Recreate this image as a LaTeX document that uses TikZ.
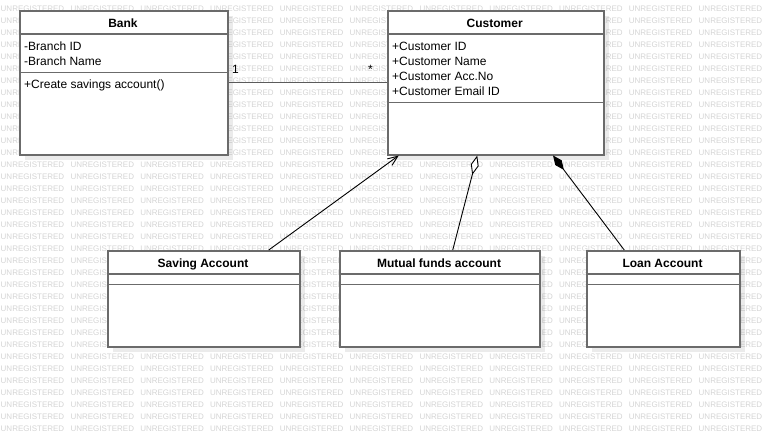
\documentclass[tikz,border=0pt]{standalone}
\usepackage{fontspec}
\setmainfont{Liberation Sans}
\usetikzlibrary{arrows.meta}
\usetikzlibrary{shadows}
\definecolor{wmgray}{rgb}{0.83, 0.83, 0.83}
\definecolor{boxgray}{rgb}{0.42, 0.42, 0.42}
\tikzset{umlclass/.style = {draw=boxgray, line width=1.5pt, fill=white, anchor=north west, inner sep=0pt,
                            drop shadow={shadow xshift=5pt, shadow yshift=-5pt, fill=black, opacity=0.08}},
         wmark/.style = {anchor=west, inner sep=0pt, text=wmgray, font=\fontsize{8}{8}\selectfont},
         classname/.style = {anchor=base, inner sep=0pt, font=\bfseries\fontsize{12}{14}\selectfont},
         member/.style = {anchor=base west, inner sep=0pt, font=\fontsize{12}{14}\selectfont},
         compline/.style = {draw=boxgray, line width=1.5pt},
         navig/.style = {draw=black, line width=0.9pt, -{Straight Barb[length=10pt, width=8pt]}},
         aggr/.style = {draw=black, line width=0.9pt, -{Diamond[open, length=20pt, width=8pt, fill=white]}},
         compo/.style = {draw=black, line width=0.9pt, -{Diamond[length=18pt, width=8pt]}},
         declare function = {inbox(\wx,\wy,\xa,\xb,\ya,\yb) = and(and(\wx>\xa, \wx+64<\xb), and(\wy-4>\ya, \wy+4<\yb));}}

\begin{document}
\begin{tikzpicture}[x=1pt, y=-1pt]
      \useasboundingbox (0, 0) rectangle (780, 434);
      % watermark, words that lie wholly under a class box are left out
      \foreach \r in {0,...,35}
        \foreach \c in {0,...,10} {
          \pgfmathsetmacro\px{0.5 + 69.8*\c}
          \pgfmathsetmacro\py{8.3 + 12*\r}
          \pgfmathtruncatemacro\hid{inbox(\px,\py,19,227,10,154) + inbox(\px,\py,387,603,10,154)
                                   + inbox(\px,\py,107,299,250,346) + inbox(\px,\py,339,539,250,346)
                                   + inbox(\px,\py,586,739,250,346)}
          \ifnum\hid=0
            \node [wmark] (wm-\r-\c) at (\px, \py) {UNREGISTERED};
          \fi
        }

      \node [umlclass, minimum width=208pt, minimum height=144pt] (bank) at (19, 10) {};
      \node [umlclass, minimum width=216pt, minimum height=144pt] (customer) at (387, 10) {};
      \node [umlclass, minimum width=192pt, minimum height=96pt] (saving) at (107, 250) {};
      \node [umlclass, minimum width=200pt, minimum height=96pt] (mutual) at (339, 250) {};
      \node [umlclass, minimum width=153pt, minimum height=96pt] (loan) at (586, 250) {};

      \draw [compline] ([yshift=-24pt]bank.north west) -- ([yshift=-24pt]bank.north east);
      \draw [compline] ([yshift=-62.7pt]bank.north west) -- ([yshift=-62.7pt]bank.north east);
      \draw [compline] ([yshift=-24pt]customer.north west) -- ([yshift=-24pt]customer.north east);
      \draw [compline] ([yshift=-92.7pt]customer.north west) -- ([yshift=-92.7pt]customer.north east);
      \foreach \n in {saving, mutual, loan} {
        \draw [compline] ([yshift=-24pt]\n.north west) -- ([yshift=-24pt]\n.north east);
        \draw [compline] ([yshift=-34.5pt]\n.north west) -- ([yshift=-34.5pt]\n.north east);
      }

      \node [classname] (bank-name) at (123, 27) {Bank};
      \node [member] (bank-id) at (24, 50) {-Branch ID};
      \node [member] (bank-bname) at (24, 65) {-Branch Name};
      \node [member] (bank-op) at (24, 88) {+Create savings account()};

      \node [classname] (customer-name) at (494.7, 27) {Customer};
      \node [member] (customer-id) at (392, 50) {+Customer ID};
      \node [member] (customer-cname) at (392, 65) {+Customer Name};
      \node [member] (customer-acc) at (392, 80) {+Customer Acc.No};
      \node [member] (customer-mail) at (392, 95) {+Customer Email ID};

      \node [classname] (saving-name) at (203, 267) {Saving Account};
      \node [classname] (mutual-name) at (439, 267) {Mutual funds account};
      \node [classname] (loan-name) at (662.5, 267) {Loan Account};

      \draw [draw=boxgray!85!black, line width=1.3pt] (bank.east) -- (customer.west);
      \node [anchor=base, inner sep=0pt, font=\fontsize{12}{14}\selectfont] (one) at (235.5, 73) {1};
      \node [anchor=base, inner sep=0pt, font=\fontsize{12}{14}\selectfont] (many) at (370.5, 73) {*};

      \draw [navig] ([xshift=65pt]saving.north) -- ([xshift=-97pt]customer.south);
      \draw [aggr] ([xshift=13pt]mutual.north) -- ([xshift=-18.5pt]customer.south);
      \draw [compo] ([xshift=-39pt]loan.north) -- ([xshift=57.3pt]customer.south);
    \end{tikzpicture}
\end{document}
